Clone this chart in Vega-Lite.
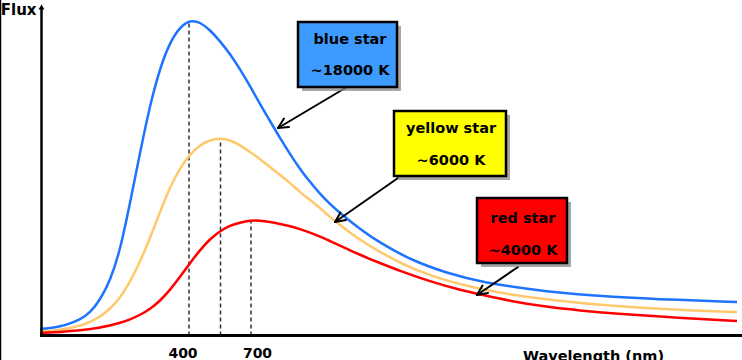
{
  "$schema": "https://vega.github.io/schema/vega-lite/v6.json",
  "width": 702,
  "height": 330,
  "autosize": {"type": "none"},
  "padding": {"left": 40, "top": 3, "right": 0, "bottom": 27},
  "background": "white",
  "config": {"view": {"stroke": null}, "text": {"font": "DejaVu Sans", "fontWeight": "bold"}},
  "encoding": {
    "x": {"field": "x", "type": "quantitative", "scale": {"domain": [0, 702], "nice": false, "zero": false}, "axis": null},
    "y": {"field": "y", "type": "quantitative", "scale": {"domain": [0, 330], "nice": false, "zero": false}, "axis": null}
  },
  "layer": [
    {
      "data": {"values": [
        {"star": "blue", "x": 149, "y": -2.5, "y2": 312},
        {"star": "yellow", "x": 180.5, "y": -2.5, "y2": 194},
        {"star": "red", "x": 211, "y": -2.5, "y2": 112}
      ]},
      "mark": {"type": "rule", "color": "#333333", "strokeWidth": 1.5, "strokeDash": [4, 3]},
      "encoding": {"y2": {"field": "y2"}}
    },
    {
      "data": {"values": [
        {"star": "blue", "x": 0, "y": 4}, {"star": "blue", "x": 10, "y": 5}, {"star": "blue", "x": 20, "y": 6.5},
        {"star": "blue", "x": 30, "y": 9.5}, {"star": "blue", "x": 40, "y": 13.5}, {"star": "blue", "x": 50, "y": 20},
        {"star": "blue", "x": 60, "y": 33}, {"star": "blue", "x": 70, "y": 52}, {"star": "blue", "x": 80, "y": 82},
        {"star": "blue", "x": 90, "y": 130}, {"star": "blue", "x": 100, "y": 180}, {"star": "blue", "x": 110, "y": 228},
        {"star": "blue", "x": 120, "y": 265}, {"star": "blue", "x": 130, "y": 291}, {"star": "blue", "x": 140, "y": 306},
        {"star": "blue", "x": 150, "y": 313}, {"star": "blue", "x": 160, "y": 311}, {"star": "blue", "x": 170, "y": 303},
        {"star": "blue", "x": 180, "y": 292}, {"star": "blue", "x": 190, "y": 279}, {"star": "blue", "x": 200, "y": 264},
        {"star": "blue", "x": 210, "y": 247}, {"star": "blue", "x": 220, "y": 229}, {"star": "blue", "x": 230, "y": 212},
        {"star": "blue", "x": 240, "y": 195}, {"star": "blue", "x": 250, "y": 179}, {"star": "blue", "x": 260, "y": 164},
        {"star": "blue", "x": 270, "y": 151}, {"star": "blue", "x": 280, "y": 139}, {"star": "blue", "x": 290, "y": 129},
        {"star": "blue", "x": 300, "y": 120}, {"star": "blue", "x": 320, "y": 104}, {"star": "blue", "x": 340, "y": 90},
        {"star": "blue", "x": 373, "y": 72}, {"star": "blue", "x": 407, "y": 60}, {"star": "blue", "x": 440, "y": 51},
        {"star": "blue", "x": 507, "y": 41}, {"star": "blue", "x": 573, "y": 36}, {"star": "blue", "x": 640, "y": 33},
        {"star": "blue", "x": 697, "y": 31},
        {"star": "yellow", "x": 0, "y": 1}, {"star": "yellow", "x": 10, "y": 2}, {"star": "yellow", "x": 20, "y": 3},
        {"star": "yellow", "x": 30, "y": 5}, {"star": "yellow", "x": 40, "y": 7}, {"star": "yellow", "x": 50, "y": 11},
        {"star": "yellow", "x": 60, "y": 16}, {"star": "yellow", "x": 70, "y": 24}, {"star": "yellow", "x": 80, "y": 35},
        {"star": "yellow", "x": 90, "y": 51}, {"star": "yellow", "x": 100, "y": 71}, {"star": "yellow", "x": 110, "y": 95},
        {"star": "yellow", "x": 120, "y": 121}, {"star": "yellow", "x": 130, "y": 146}, {"star": "yellow", "x": 140, "y": 165},
        {"star": "yellow", "x": 150, "y": 179}, {"star": "yellow", "x": 160, "y": 188}, {"star": "yellow", "x": 170, "y": 193},
        {"star": "yellow", "x": 180, "y": 195}, {"star": "yellow", "x": 190, "y": 193}, {"star": "yellow", "x": 200, "y": 188},
        {"star": "yellow", "x": 210, "y": 181}, {"star": "yellow", "x": 220, "y": 174}, {"star": "yellow", "x": 230, "y": 166},
        {"star": "yellow", "x": 240, "y": 158}, {"star": "yellow", "x": 250, "y": 150}, {"star": "yellow", "x": 260, "y": 141},
        {"star": "yellow", "x": 270, "y": 133}, {"star": "yellow", "x": 280, "y": 125}, {"star": "yellow", "x": 290, "y": 116},
        {"star": "yellow", "x": 300, "y": 108}, {"star": "yellow", "x": 320, "y": 93}, {"star": "yellow", "x": 340, "y": 81},
        {"star": "yellow", "x": 360, "y": 70}, {"star": "yellow", "x": 390, "y": 57}, {"star": "yellow", "x": 440, "y": 43},
        {"star": "yellow", "x": 507, "y": 33}, {"star": "yellow", "x": 573, "y": 27}, {"star": "yellow", "x": 640, "y": 23},
        {"star": "yellow", "x": 697, "y": 21},
        {"star": "red", "x": 0, "y": 0}, {"star": "red", "x": 20, "y": 1}, {"star": "red", "x": 40, "y": 2.5},
        {"star": "red", "x": 60, "y": 5}, {"star": "red", "x": 80, "y": 10}, {"star": "red", "x": 90, "y": 13.5},
        {"star": "red", "x": 100, "y": 18}, {"star": "red", "x": 110, "y": 24}, {"star": "red", "x": 120, "y": 32},
        {"star": "red", "x": 130, "y": 43}, {"star": "red", "x": 140, "y": 56}, {"star": "red", "x": 150, "y": 70},
        {"star": "red", "x": 160, "y": 83}, {"star": "red", "x": 170, "y": 94}, {"star": "red", "x": 180, "y": 102},
        {"star": "red", "x": 190, "y": 107.5}, {"star": "red", "x": 200, "y": 110.5}, {"star": "red", "x": 210, "y": 112.5},
        {"star": "red", "x": 220, "y": 112.5}, {"star": "red", "x": 230, "y": 111}, {"star": "red", "x": 240, "y": 109},
        {"star": "red", "x": 250, "y": 107}, {"star": "red", "x": 260, "y": 104}, {"star": "red", "x": 270, "y": 100.5},
        {"star": "red", "x": 280, "y": 96.5}, {"star": "red", "x": 290, "y": 92}, {"star": "red", "x": 300, "y": 87.5},
        {"star": "red", "x": 320, "y": 78}, {"star": "red", "x": 340, "y": 70}, {"star": "red", "x": 360, "y": 62},
        {"star": "red", "x": 390, "y": 51.5}, {"star": "red", "x": 420, "y": 43}, {"star": "red", "x": 440, "y": 38.5},
        {"star": "red", "x": 470, "y": 32}, {"star": "red", "x": 507, "y": 26}, {"star": "red", "x": 540, "y": 22.5},
        {"star": "red", "x": 573, "y": 19.5}, {"star": "red", "x": 640, "y": 15}, {"star": "red", "x": 697, "y": 12}
      ]},
      "mark": {"type": "line", "interpolate": "basis", "strokeWidth": 2.5},
      "encoding": {
        "stroke": {"field": "star", "type": "nominal", "scale": {"domain": ["blue", "yellow", "red"], "range": ["#1e74ff", "#ffc96b", "#ff0000"]}, "legend": null}
      }
    },
    {
      "data": {"values": [{"x": 0, "y": -2.5, "x2": 702}]},
      "mark": {"type": "rule", "color": "black", "strokeWidth": 3},
      "encoding": {"x2": {"field": "x2"}}
    },
    {
      "data": {"values": [{"x": 1.5, "y": -2.5, "y2": 326}]},
      "mark": {"type": "rule", "color": "black", "strokeWidth": 2.5},
      "encoding": {"y2": {"field": "y2"}}
    },
    {
      "data": {"values": [{"x": 1.5, "y": 326}]},
      "mark": {"type": "point", "shape": "triangle-up", "filled": true, "color": "black", "size": 36, "opacity": 1}
    },
    {
      "data": {"values": [{"x": -39.5, "y": -27, "y2": 333}]},
      "mark": {"type": "rule", "color": "black", "strokeWidth": 1.5},
      "encoding": {"y2": {"field": "y2"}}
    },
    {
      "data": {"values": [
        {"x": 307, "y": 246, "x2": 238, "y2": 205},
        {"x": 238, "y": 205, "x2": 249, "y2": 206},
        {"x": 238, "y": 205, "x2": 244, "y2": 214.5},
        {"x": 358, "y": 155, "x2": 295, "y2": 111},
        {"x": 295, "y": 111, "x2": 306, "y2": 113},
        {"x": 295, "y": 111, "x2": 300.5, "y2": 120.5},
        {"x": 478, "y": 66, "x2": 437, "y2": 38},
        {"x": 437, "y": 38, "x2": 448, "y2": 40},
        {"x": 437, "y": 38, "x2": 442.5, "y2": 47.5}
      ]},
      "mark": {"type": "rule", "color": "black", "strokeWidth": 2, "strokeCap": "round"},
      "encoding": {"x2": {"field": "x2"}, "y2": {"field": "y2"}}
    },
    {
      "data": {"values": [
        {"star": "blue", "x": 258, "x2": 357, "y": 311, "y2": 246},
        {"star": "yellow", "x": 354, "x2": 466, "y": 222, "y2": 157},
        {"star": "red", "x": 437, "x2": 527, "y": 135, "y2": 70}
      ]},
      "layer": [
        {
          "mark": {"type": "rect", "color": "#8a8a8a", "opacity": 0.75, "xOffset": 4, "x2Offset": 4, "yOffset": 4, "y2Offset": 4},
          "encoding": {"x2": {"field": "x2"}, "y2": {"field": "y2"}}
        },
        {
          "mark": {"type": "rect", "stroke": "black", "strokeWidth": 2.5},
          "encoding": {
            "x2": {"field": "x2"}, "y2": {"field": "y2"},
            "fill": {"field": "star", "type": "nominal", "scale": {"domain": ["blue", "yellow", "red"], "range": ["#3d9bff", "#ffff00", "#ff0000"]}, "legend": null}
          }
        }
      ]
    },
    {
      "data": {"values": [
        {"x": 310, "y": 289, "label": "blue star"},
        {"x": 310, "y": 258, "label": "~18000 K"},
        {"x": 411, "y": 200, "label": "yellow star"},
        {"x": 411, "y": 168, "label": "~6000 K"},
        {"x": 483, "y": 110, "label": "red star"},
        {"x": 483, "y": 78, "label": "~4000 K"}
      ]},
      "mark": {"type": "text", "align": "center", "baseline": "alphabetic", "fontSize": 14.5, "color": "black"},
      "encoding": {"text": {"field": "label"}}
    },
    {
      "data": {"values": [
        {"x": 143, "y": -25, "label": "400"},
        {"x": 217.5, "y": -25, "label": "700"}
      ]},
      "mark": {"type": "text", "align": "center", "baseline": "alphabetic", "fontSize": 14, "color": "black"},
      "encoding": {"text": {"field": "label"}}
    },
    {
      "data": {"values": [{"x": 483, "y": -27.5, "label": "Wavelength (nm)"}]},
      "mark": {"type": "text", "align": "left", "baseline": "alphabetic", "fontSize": 14.5, "color": "black"},
      "encoding": {"text": {"field": "label"}}
    },
    {
      "data": {"values": [{"x": -3.5, "y": 318, "label": "Flux"}]},
      "mark": {"type": "text", "align": "right", "baseline": "alphabetic", "fontSize": 15, "color": "black"},
      "encoding": {"text": {"field": "label"}}
    }
  ]
}
